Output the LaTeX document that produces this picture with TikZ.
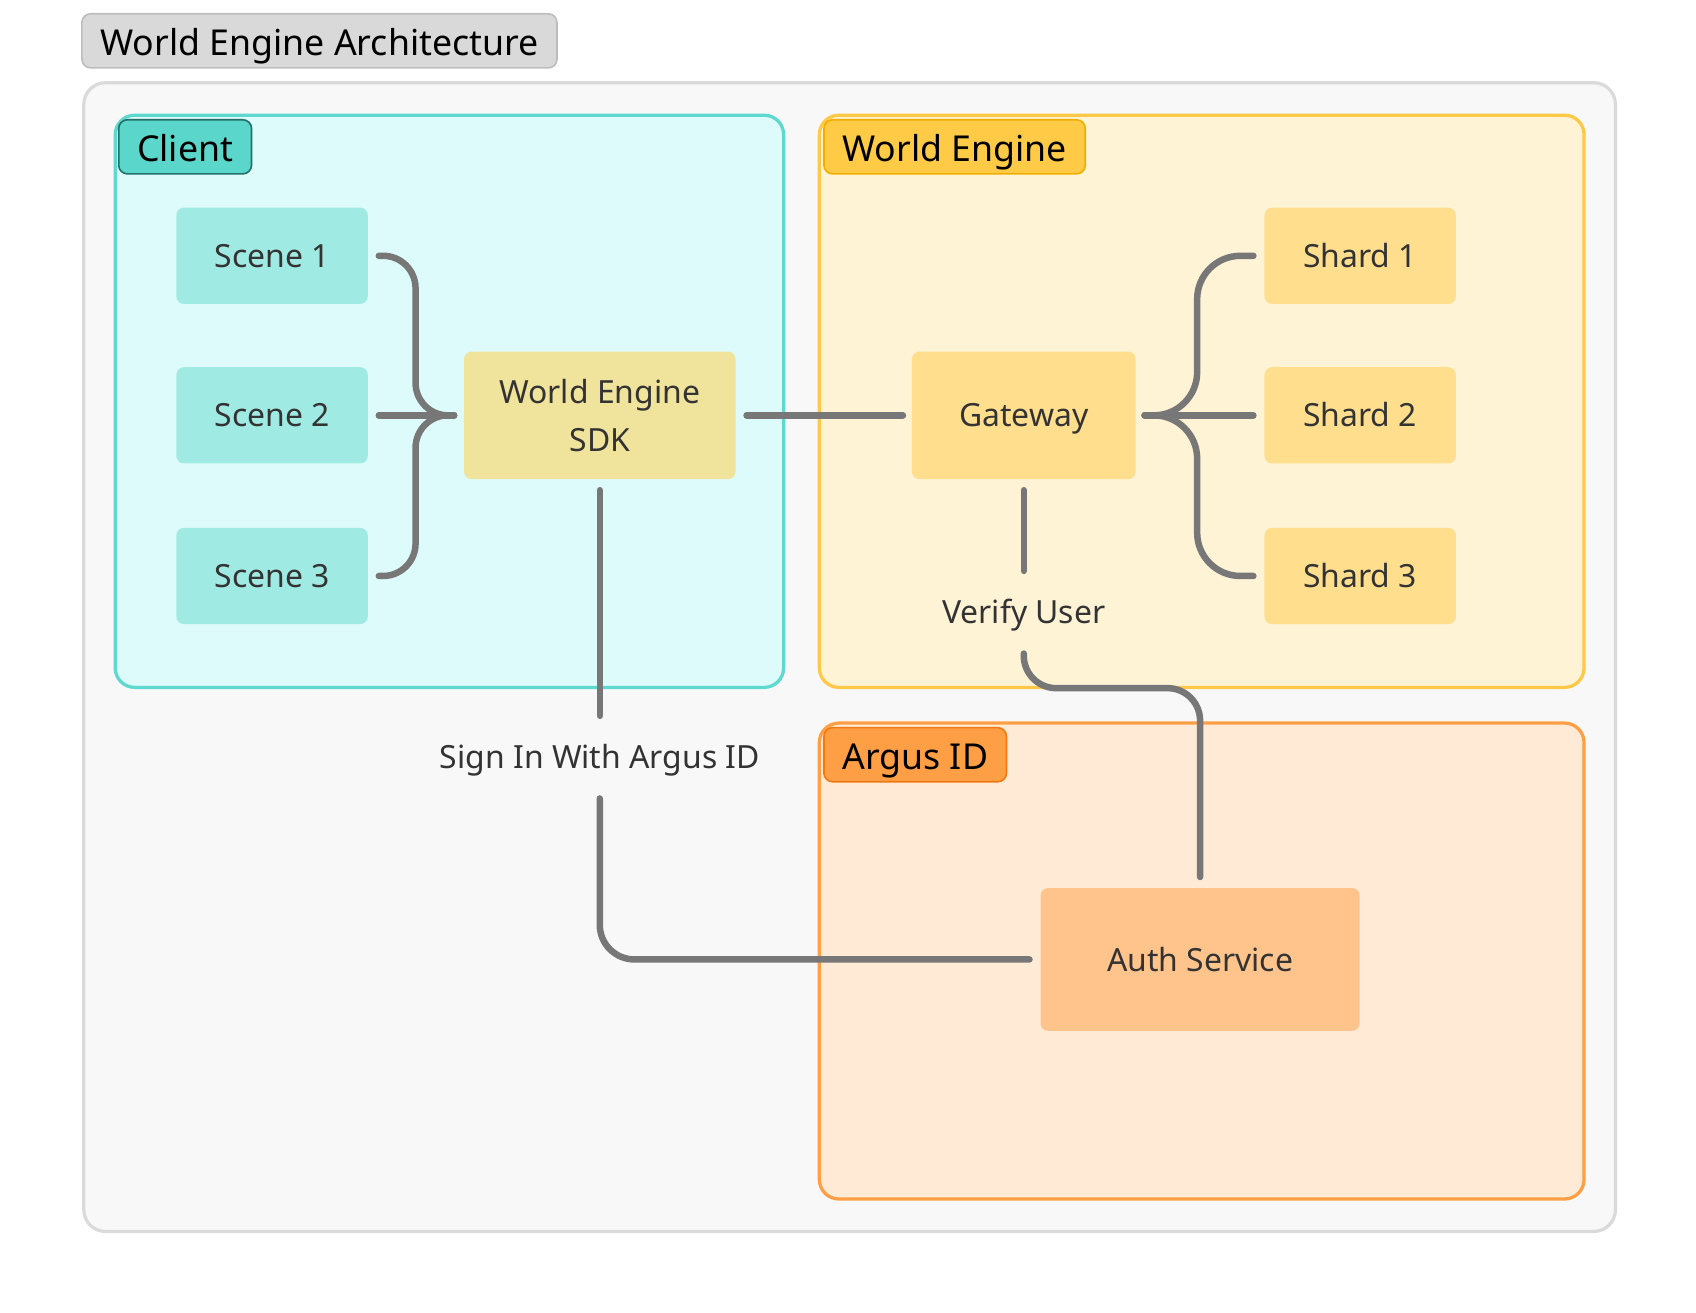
\documentclass[tikz,border=0pt]{standalone}
\usepackage{fontspec}
\setmainfont{Noto Sans}
\usetikzlibrary{positioning}
\definecolor{pagegray}{HTML}{F8F8F8}
\definecolor{outerline}{HTML}{DADADA}
\definecolor{titlefill}{HTML}{D9D9D9}
\definecolor{titleline}{HTML}{BDBDBD}
\definecolor{clientfill}{HTML}{DDFBFA}
\definecolor{clientline}{HTML}{5DD9CF}
\definecolor{clienttagfill}{HTML}{5AD6CA}
\definecolor{clienttagline}{HTML}{22706A}
\definecolor{enginefill}{HTML}{FFF3D6}
\definecolor{engineline}{HTML}{FFC947}
\definecolor{enginetagfill}{HTML}{FFCA45}
\definecolor{enginetagline}{HTML}{F0AE00}
\definecolor{argusfill}{HTML}{FFEAD6}
\definecolor{argusline}{HTML}{FF9F45}
\definecolor{argustagfill}{HTML}{FF9F45}
\definecolor{argustagline}{HTML}{F07A10}
\definecolor{scenefill}{HTML}{9FEAE3}
\definecolor{sdkfill}{HTML}{F0E39B}
\definecolor{shardfill}{HTML}{FFDF8E}
\definecolor{authfill}{HTML}{FFC48C}
\definecolor{darktext}{HTML}{333333}
\definecolor{connline}{HTML}{777777}
\tikzset{
	group/.style={line width=3, rounded corners=18, anchor=north west, inner sep=0},
	tag/.style={line width=1.5, rounded corners=8, anchor=north west, minimum height=50, inner xsep=17, inner ysep=0, text height=28, text depth=0, text=black, font=\fontsize{33}{33}\selectfont},
	block/.style={rounded corners=7, minimum width=177, minimum height=89, inner sep=0, text=darktext, align=center, font=\fontsize{29.5}{44}\selectfont},
	oneline/.style={text height=21.5, text depth=0},
	scene/.style={block, oneline, fill=scenefill},
	shard/.style={block, oneline, fill=shardfill},
	lbl/.style={oneline, minimum height=76, inner sep=0, text=darktext, font=\fontsize{29.5}{29.5}\selectfont},
	conn/.style={draw=connline, line width=6, line cap=round, rounded corners=32}
}
\begin{document}
\begin{tikzpicture}[x=1pt, y=-1pt]
	\useasboundingbox (0,0) rectangle (1568,1213);
	\node[tag, fill=titlefill, draw=titleline] (title) at (75,12) {World Engine Architecture};
	\node[group, fill=pagegray, draw=outerline, minimum width=1416, minimum height=1062, rounded corners=20] (outer) at (76,75) {};
	\node[group, fill=clientfill, draw=clientline, minimum width=618, minimum height=529] (client) at (105,105) {};
	\node[group, fill=enginefill, draw=engineline, minimum width=707, minimum height=529] (engine) at (756,105) {};
	\node[group, fill=argusfill, draw=argusline, minimum width=707, minimum height=440] (argus) at (756,667) {};
	\node[tag, fill=clienttagfill, draw=clienttagline] (clienttag) at (109,110) {Client};
	\node[tag, fill=enginetagfill, draw=enginetagline] (enginetag) at (761,110) {World Engine};
	\node[tag, fill=argustagfill, draw=argustagline] (argustag) at (761,672) {Argus ID};

	\node[scene] (scene1) at (251.5,236.5) {Scene 1};
	\node[scene] (scene2) at (251.5,384) {Scene 2};
	\node[scene] (scene3) at (251.5,532.5) {Scene 3};
	\node[block, fill=sdkfill, minimum width=251, minimum height=118] (sdk) at (554.5,384) {World Engine\\SDK};
	\node[block, oneline, fill=shardfill, minimum width=207, minimum height=118] (gateway) at (946.5,384) {Gateway};
	\node[shard] (shard1) at (1257.5,236.5) {Shard 1};
	\node[shard] (shard2) at (1257.5,384) {Shard 2};
	\node[shard] (shard3) at (1257.5,532.5) {Shard 3};
	\node[block, oneline, fill=authfill, minimum width=295, minimum height=132] (auth) at (1109.5,887) {Auth Service};
	\node[lbl] (signin) at (554.5,700) {Sign In With Argus ID};
	\node[lbl] (verify) at (946.5,566) {Verify User};

	\draw[conn, rounded corners=30] ([xshift=10]scene1.east) -- ++(34,0) |- ([xshift=-9]sdk.west);
	\draw[conn] ([xshift=10]scene2.east) -- ([xshift=-9]sdk.west);
	\draw[conn, rounded corners=30] ([xshift=10]scene3.east) -- ++(34,0) |- ([xshift=-9]sdk.west);
	\draw[conn] ([xshift=10]sdk.east) -- ([xshift=-8]gateway.west);
	\draw[conn, rounded corners=40] ([xshift=-10]shard1.west) -- ++(-52,0) |- ([xshift=8]gateway.east);
	\draw[conn] ([xshift=-10]shard2.west) -- ([xshift=8]gateway.east);
	\draw[conn, rounded corners=40] ([xshift=-10]shard3.west) -- ++(-52,0) |- ([xshift=8]gateway.east);
	\draw[conn] ([yshift=-10]sdk.south) -- (signin.north);
	\draw[conn] (signin.south) |- ([xshift=-10]auth.west);
	\draw[conn] ([yshift=-10]gateway.south) -- (verify.north);
	\draw[conn, rounded corners=30] (verify.south) -- ++(0,32) -| ([yshift=10]auth.north);
\end{tikzpicture}
\end{document}
